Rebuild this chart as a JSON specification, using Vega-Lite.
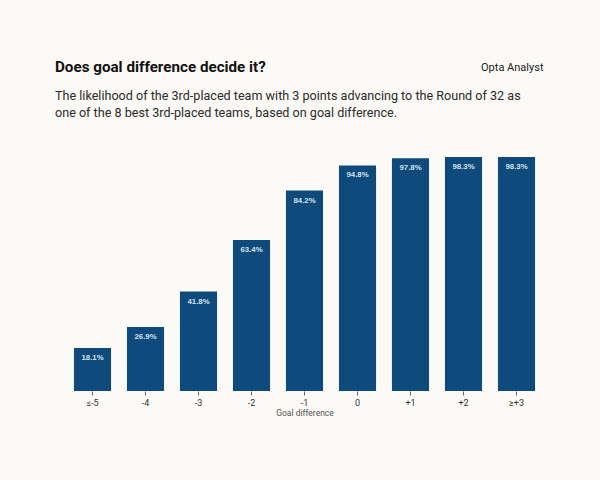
{
  "$schema": "https://vega.github.io/schema/vega-lite/v6.json",
  "autosize": "none",
  "width": 477,
  "height": 238,
  "padding": {"left": 66, "top": 153, "right": 57, "bottom": 89},
  "background": "#fbfaf6",
  "title": {
    "text": "Does goal difference decide it?",
    "subtitle": ["The likelihood of the 3rd-placed team with 3 points advancing to the Round of 32 as", "one of the 8 best 3rd-placed teams, based on goal difference."],
    "anchor": "start",
    "frame": "group",
    "dx": -11,
    "font": "Roboto",
    "fontSize": 15.2,
    "fontWeight": "bold",
    "color": "#111111",
    "subtitleFont": "Roboto",
    "subtitleFontSize": 12.6,
    "subtitleColor": "#2a2a2a",
    "subtitlePadding": 15,
    "subtitleLineHeight": 17,
    "offset": -58.5
  },
  "data": {
    "values": [
      {"gd": "≤-5", "pct": 0.181},
      {"gd": "-4", "pct": 0.269},
      {"gd": "-3", "pct": 0.418},
      {"gd": "-2", "pct": 0.634},
      {"gd": "-1", "pct": 0.842},
      {"gd": "0", "pct": 0.948},
      {"gd": "+1", "pct": 0.978},
      {"gd": "+2", "pct": 0.983},
      {"gd": "≥+3", "pct": 0.983}
    ]
  },
  "encoding": {
    "y": {
      "field": "pct",
      "type": "quantitative",
      "scale": {"domain": [0, 1]},
      "axis": null
    }
  },
  "layer": [
    {
      "mark": {"type": "bar", "color": "#0e4a7b"},
      "encoding": {
        "x": {
          "field": "gd",
          "type": "nominal",
          "sort": null,
          "scale": {"paddingInner": 0.3, "paddingOuter": 0.15},
          "axis": {
            "title": "Goal difference",
            "labelAngle": 0,
            "labelFont": "Roboto",
            "labelFontSize": 9,
            "labelColor": "#333333",
            "labelPadding": 3,
            "ticks": true,
            "tickSize": 4,
            "tickColor": "#666666",
            "domain": false,
            "titleFont": "Roboto",
            "titleFontSize": 8.5,
            "titleFontWeight": "normal",
            "titleColor": "#555555",
            "titlePadding": 1
          }
        }
      }
    },
    {
      "mark": {"type": "text", "dy": 10, "font": "Liberation Sans", "fontSize": 7.8, "fontWeight": "bold", "color": "#d5e3f0"},
      "encoding": {
        "x": {
          "field": "gd",
          "type": "nominal",
          "sort": null,
          "axis": {
            "orient": "top",
            "title": "Opta Analyst",
            "labels": false,
            "ticks": false,
            "domain": false,
            "grid": false,
            "titleAnchor": "end",
            "titleX": 477,
            "titleY": -86,
            "titleBaseline": "middle",
            "titleFont": "Roboto",
            "titleFontSize": 11,
            "titleFontWeight": "normal",
            "titleColor": "#222222"
          }
        },
        "text": {"field": "pct", "type": "quantitative", "format": ".1%"}
      }
    }
  ],
  "resolve": {"axis": {"x": "independent"}},
  "config": {
    "view": {"stroke": null}
  }
}
